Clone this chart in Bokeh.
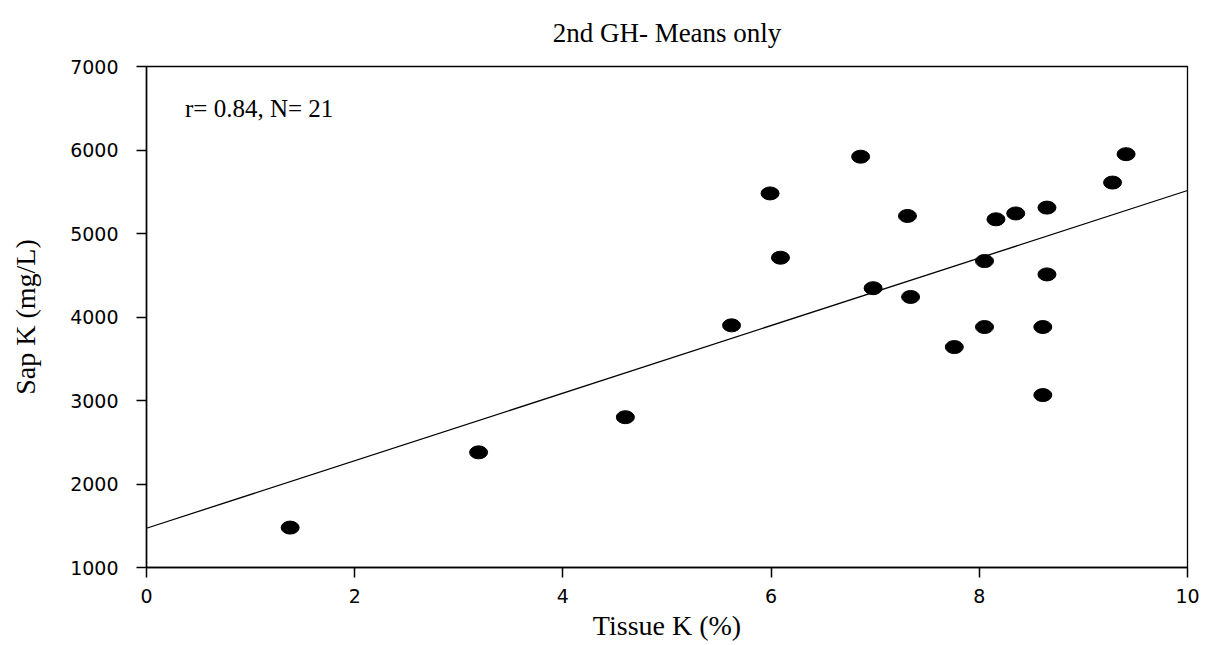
from bokeh.plotting import figure
from bokeh.models import Range1d, FixedTicker, Label
from bokeh.embed import file_html
from bokeh.resources import INLINE

# Tissue K (%) vs sap K (mg/L), greenhouse means
tissue_k = [1.38, 3.19, 4.60, 5.62, 5.99, 6.09, 6.86, 6.98, 7.31, 7.34, 7.76,
            8.05, 8.05, 8.16, 8.35, 8.61, 8.61, 8.65, 8.65, 9.28, 9.41]
sap_k = [1478, 2379, 2800, 3900, 5480, 4710, 5920, 4345, 5210, 4240, 3640,
         4670, 3880, 5170, 5240, 3880, 3065, 5310, 4510, 5610, 5950]

# regression line
fit_intercept = 1470
fit_slope = 404.5
fit_x = [0, 10]
fit_y = [fit_intercept + fit_slope * x for x in fit_x]

x_ticks = [0, 2, 4, 6, 8, 10]
y_ticks = [1000, 2000, 3000, 4000, 5000, 6000, 7000]

p = figure(width=1210, height=645, output_backend="svg", toolbar_location=None,
           x_range=Range1d(0, 10), y_range=Range1d(1000, 7000),
           min_border_left=146, min_border_right=23,
           min_border_top=66, min_border_bottom=78)

p.title.text = "2nd GH- Means only"
p.title.align = "center"
p.title.vertical_align = "top"
p.title.text_font = "Liberation Serif"
p.title.text_font_size = "27px"
p.title.text_font_style = "normal"
p.title.text_color = "black"
p.title.offset = 0
p.title.standoff = 34

p.grid.visible = False
p.outline_line_color = "black"
p.outline_line_width = 1.3
p.background_fill_color = "white"
p.border_fill_color = "white"

for ax in (p.xaxis[0], p.yaxis[0]):
    ax.axis_line_width = 1.5
    ax.axis_line_color = "black"
    ax.major_tick_in = 0
    ax.major_tick_out = 10
    ax.major_tick_line_width = 1.5
    ax.major_tick_line_color = "black"
    ax.minor_tick_line_color = None
    ax.major_label_text_font = "DejaVu Sans"
    ax.major_label_text_font_size = "19px"
    ax.major_label_text_color = "black"
    ax.axis_label_text_font = "Liberation Serif"
    ax.axis_label_text_font_style = "normal"
    ax.axis_label_text_font_size = "28px"
    ax.axis_label_text_color = "black"

p.xaxis[0].ticker = FixedTicker(ticks=x_ticks)
p.yaxis[0].ticker = FixedTicker(ticks=y_ticks)
p.xaxis[0].major_label_standoff = 11
p.yaxis[0].major_label_standoff = 18
p.xaxis[0].axis_label = "Tissue K (%)"
p.yaxis[0].axis_label = "Sap K (mg/L)"
p.xaxis[0].axis_label_standoff = 4
p.yaxis[0].axis_label_standoff = 26

p.line(fit_x, fit_y, line_color="black", line_width=1.3)
p.ellipse(x=tissue_k, y=sap_k, width=18, height=13,
          width_units="screen", height_units="screen",
          fill_color="black", line_color="black")

p.add_layout(Label(x=0.37, y=6500, text="r= 0.84, N= 21",
                   text_font="Liberation Serif", text_font_size="25px",
                   text_color="black", text_baseline="alphabetic"))

open("out.html", "w").write(file_html(p, INLINE))
